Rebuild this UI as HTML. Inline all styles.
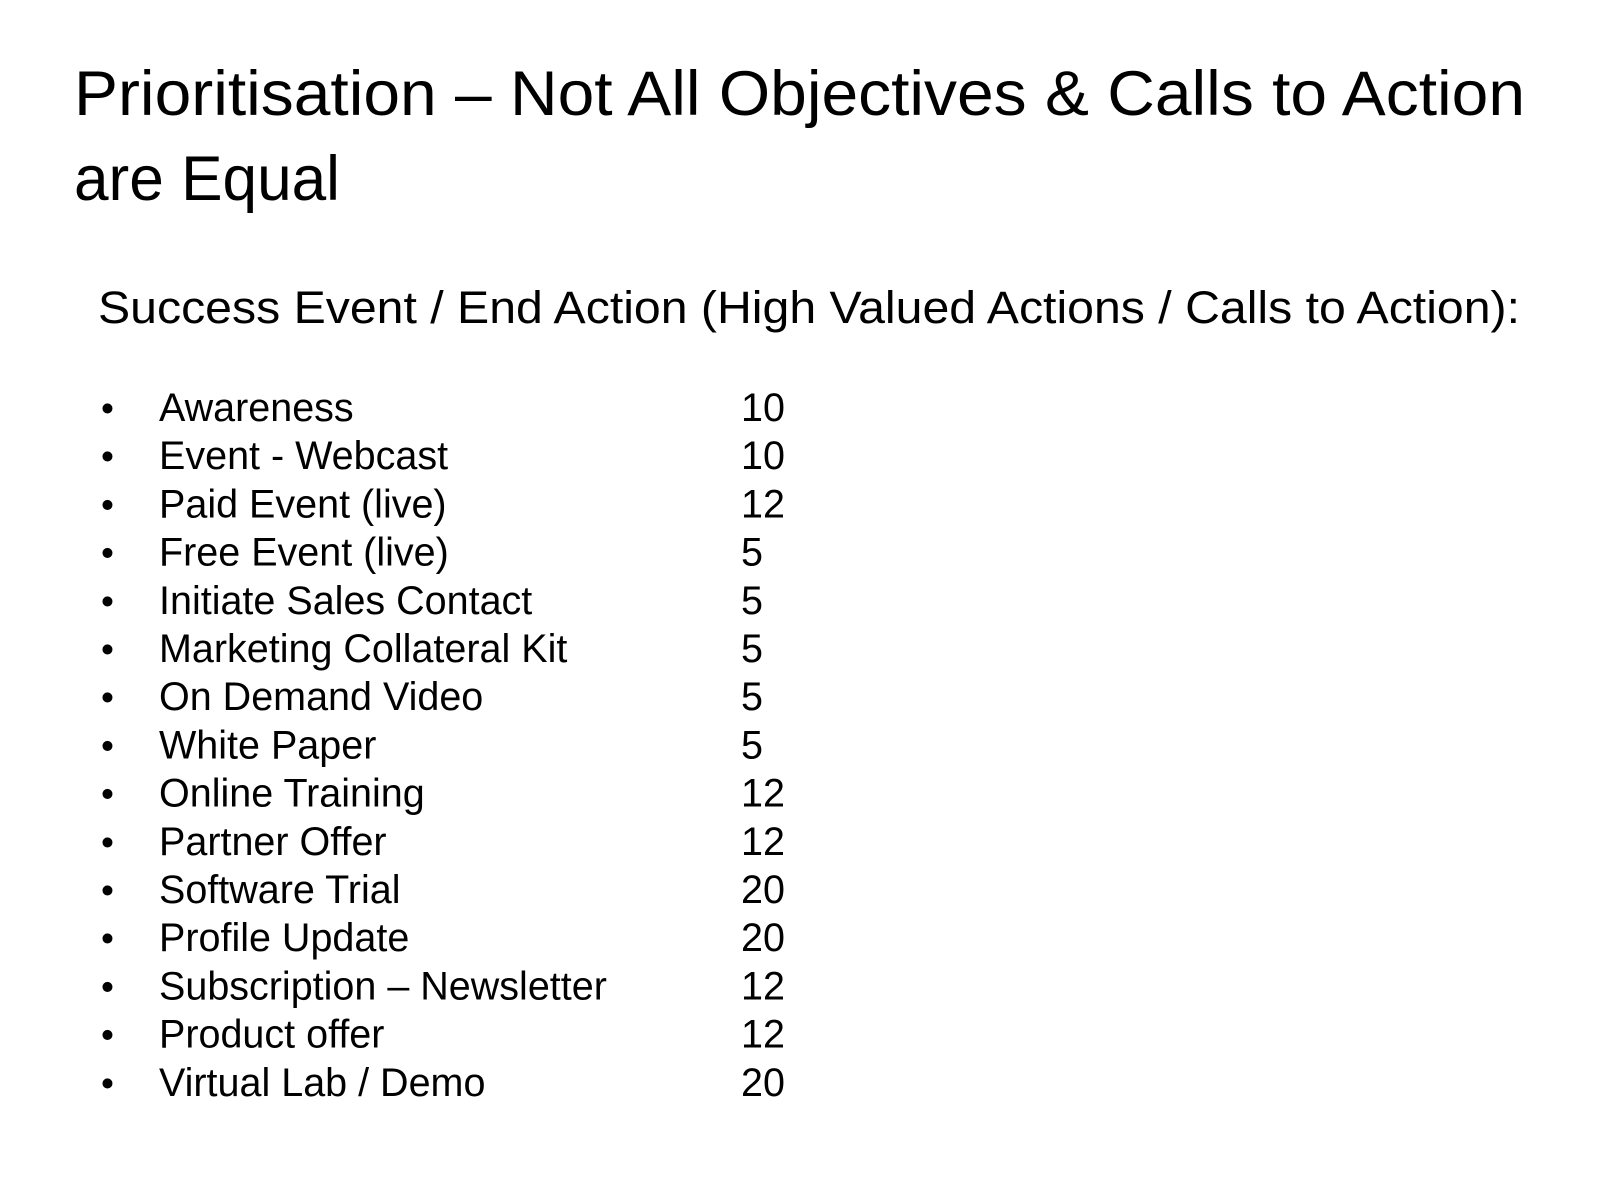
<!DOCTYPE html>
<html>
<head>
<meta charset="utf-8">
<style>
  html,body{margin:0;padding:0;background:#fff;}
  svg{display:block;}
  text{font-family:"Liberation Sans",sans-serif;fill:#000;}
</style>
</head>
<body>
<svg id="slide" width="1600" height="1200" viewBox="0 0 1600 1200" xmlns="http://www.w3.org/2000/svg">
  <rect x="0" y="0" width="1600" height="1200" fill="#fff"/>
  <text x="74" y="115" font-size="63" textLength="1451" lengthAdjust="spacingAndGlyphs">Prioritisation – Not All Objectives &amp; Calls to Action</text>
  <text x="74" y="200" font-size="63" textLength="266" lengthAdjust="spacingAndGlyphs">are Equal</text>
  <text x="98" y="323" font-size="45" textLength="1422" lengthAdjust="spacingAndGlyphs">Success Event / End Action (High Valued Actions / Calls to Action):</text>
  <g id="list"></g>
</svg>
<script>
const labels = ["Awareness","Event - Webcast","Paid Event (live)","Free Event (live)","Initiate Sales Contact","Marketing Collateral Kit","On Demand Video","White Paper","Online Training","Partner Offer","Software Trial","Profile Update","Subscription – Newsletter","Product offer","Virtual Lab / Demo"];
const values = [10,10,12,5,5,5,5,5,12,12,20,20,12,12,20];

const NS = "http://www.w3.org/2000/svg";
const list = document.getElementById("list");
const top0 = 421, step = 48.2;
labels.forEach((lab, i) => {
  const y = top0 + i * step;
  const b = document.createElementNS(NS, "text");
  
  
  b.setAttribute("x", 101); b.setAttribute("y", y); b.setAttribute("font-size", 37);
  b.textContent = "•";
  list.appendChild(b);
  const t = document.createElementNS(NS, "text");
  
  
  t.setAttribute("x", 159); t.setAttribute("y", y); t.setAttribute("font-size", 39.5);
  t.textContent = lab;
  list.appendChild(t);
  const v = document.createElementNS(NS, "text");
  
  
  v.setAttribute("x", 741); v.setAttribute("y", y); v.setAttribute("font-size", 39.5);
  v.textContent = values[i];
  list.appendChild(v);
});
</script>
</body>
</html>
